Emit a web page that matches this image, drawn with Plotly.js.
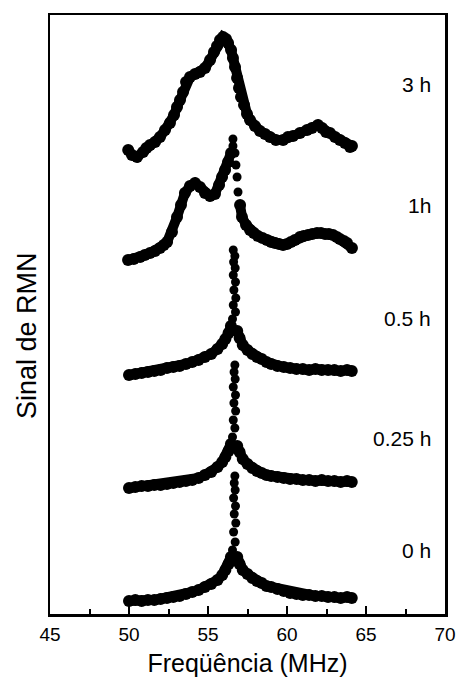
<!DOCTYPE html>
<html>
<head>
<meta charset="utf-8">
<script src="https://cdn.plot.ly/plotly-3.0.1.min.js"></script>
<style>html,body{margin:0;padding:0;background:#fff;}#chart{width:457px;height:677px;}</style>
</head>
<body>
<div id="chart"></div>
<script>
// Curve labels (annealing time) and vertical offsets of each spectrum (arbitrary units)
const labels = ["0 h", "0.25 h", "0.5 h", "1h", "3 h"];
const offsets = [12, 126, 238, 352, 462];

// 0 h
const f0L = [50.0,50.4,50.8,51.2,51.6,52.0,52.4,52.8,53.2,53.6,54.0,54.4,54.8,55.2,55.6,55.9,56.1,56.3,56.45];
const s0L = [1,2,1,2,2,3,4,5,6,8,10,12,15,18,22,27,32,38,45];
const f0P = [56.55,56.72,56.62,56.76,56.66,56.74,56.62,56.72,56.66,56.7];
const s0P = [52,60,70,79,88,96,104,112,119,126];
const f0R = [56.85,57.0,57.2,57.5,57.8,58.1,58.4,58.7,59.0,59.4,59.8,60.2,60.6,61.0,61.4,61.8,62.2,62.6,63.0,63.4,63.8,64.1];
const s0R = [45,38,32,28,24,21,19,16,15,13,11,9,8,7,7,6,6,5,5,4,5,4];

// 0.25 h
const f1L = [50.0,50.4,50.8,51.2,51.6,52.0,52.4,52.8,53.2,53.6,54.0,54.4,54.8,55.2,55.6,55.9,56.1,56.3,56.45];
const s1L = [0,1,2,2,3,3,4,5,6,7,8,10,13,16,21,26,31,37,44];
const f1P = [56.55,56.7,56.6,56.75,56.64,56.74,56.6,56.72,56.65,56.7];
const s1P = [51,60,68,77,85,93,101,109,116,123];
const f1R = [56.85,57.0,57.2,57.5,57.8,58.1,58.4,58.7,59.0,59.4,59.8,60.2,60.6,61.0,61.4,61.8,62.2,62.6,63.0,63.4,63.8,64.1];
const s1R = [42,36,29,24,20,17,15,13,12,11,10,9,9,8,8,7,8,7,7,6,7,6];

// 0.5 h
const f2L = [50.0,50.4,50.8,51.2,51.6,52.0,52.4,52.8,53.2,53.6,54.0,54.4,54.8,55.2,55.6,55.9,56.1,56.3,56.45];
const s2L = [1,2,3,4,5,6,8,9,10,12,14,16,19,22,27,32,37,43,50];
const f2P = [56.55,56.74,56.6,56.76,56.64,56.74,56.6,56.72,56.62,56.7,56.6];
const s2P = [57,64,71,78,86,94,101,108,114,120,126];
const f2R = [56.85,57.0,57.2,57.5,57.8,58.1,58.4,58.7,59.0,59.4,59.8,60.2,60.6,61.0,61.4,61.8,62.2,62.6,63.0,63.4,63.8,64.1];
const s2R = [45,38,31,26,22,19,17,14,12,10,9,8,7,7,6,7,6,6,6,5,6,5];

// 1 h
const f3L = [49.94,50.3,50.7,51.0,51.33,51.65,51.96,52.2,52.41,52.72,53.04,53.29,53.54,53.86,54.18,54.49,54.81,55.13,55.44,55.7,55.89,56.08,56.27,56.46];
const s3L = [2,3,5,7,9,11,14,17,20,30,45,57,69,76,79,75,69,66,68,77,85,92,100,109];
const f3P = [56.58,56.58,56.71,56.77,56.84,56.9];
const s3P = [116,123,109,97,85,70];
const f3R = [57.03,57.15,57.41,57.66,57.9,58.16,58.45,58.73,59.0,59.24,59.5,59.75,60.0,60.25,60.5,60.82,61.05,61.33,61.6,61.9,62.15,62.41,62.65,62.91,63.15,63.35,63.6,63.8,64.11];
const s3R = [57,45,37,32,29,26,24,22,20,19,18,17,18,20,22,25,26,27,28,29,29,28,28,27,25,23,21,19,14];

// 3 h
const f4 = [49.95,50.19,50.51,50.89,51.1,51.33,51.65,51.96,52.28,52.59,52.85,53.04,53.23,53.42,53.61,53.86,54.18,54.49,54.81,55.13,55.38,55.57,55.76,55.95,56.14,56.27,56.46,56.58,56.71,56.84,56.96,57.09,57.28,57.47,57.66,57.97,58.29,58.61,58.92,59.3,59.75,60.06,60.38,60.82,61.27,61.58,61.96,62.22,62.47,62.72,63.04,63.35,63.67,63.99,64.11];
const s4 = [2,-3,-5,0,4,7,10,15,22,29,37,45,52,60,70,75,78,80,84,92,100,106,112,115,113,109,102,94,85,74,64,55,47,38,32,26,21,18,15,12,12,15,16,19,22,24,27,24,20,19,15,12,9,5,6];

// x axis tick labels
const tickVals = [45,50,55,60,65,70];
const tickText = ["45","50","55","60","65","70"];

const shift = (arr, off) => arr.map(v => v + off);
const traces = [];
function dense(f, s, off) {
  traces.push({x: f, y: shift(s, off), mode: 'lines+markers', type: 'scatter',
    line: {color: '#000', width: 10}, marker: {color: '#000', size: 12}, hoverinfo: 'skip'});
}
function dots(f, s, off) {
  traces.push({x: f, y: shift(s, off), mode: 'markers', type: 'scatter',
    marker: {color: '#000', size: 9}, hoverinfo: 'skip'});
}
dense(f0L, s0L, offsets[0]); dots(f0P, s0P, offsets[0]); dense(f0R, s0R, offsets[0]);
dense(f1L, s1L, offsets[1]); dots(f1P, s1P, offsets[1]); dense(f1R, s1R, offsets[1]);
dense(f2L, s2L, offsets[2]); dots(f2P, s2P, offsets[2]); dense(f2R, s2R, offsets[2]);
dense(f3L, s3L, offsets[3]); dots(f3P, s3P, offsets[3]); dense(f3R, s3R, offsets[3]);
dense(f4, s4, offsets[4]);

const labelY = [64, 176, 296, 409, 530];
const annotations = labels.map((t, i) => ({
  x: 69.24, y: labelY[i], xref: 'x', yref: 'y', text: t, showarrow: false,
  xanchor: 'right', yanchor: 'middle',
  font: {family: 'Liberation Sans, Arial, sans-serif', size: 21, color: '#000'}
}));
annotations.push({
  x: -0.057, y: 0.465, xref: 'paper', yref: 'paper', text: 'Sinal de RMN',
  textangle: -90, showarrow: false, xanchor: 'center', yanchor: 'middle',
  font: {family: 'Liberation Sans, Arial, sans-serif', size: 27, color: '#000'}
});

const layout = {
  width: 457, height: 677,
  margin: {l: 50, r: 12, t: 15, b: 63},
  paper_bgcolor: '#fff', plot_bgcolor: '#fff',
  showlegend: false,
  xaxis: {
    range: [45, 70], tickmode: 'array', tickvals: tickVals, ticktext: tickText,
    ticks: 'inside', ticklen: 8, tickwidth: 2, tickcolor: '#000',
    minor: {dtick: 2.5, ticks: 'inside', ticklen: 5, tickwidth: 2, tickcolor: '#000'},
    showline: true, linecolor: '#000', linewidth: 2.5, mirror: true,
    showgrid: false, zeroline: false, ticklabelstandoff: 2,
    tickfont: {family: 'Liberation Sans, Arial, sans-serif', size: 19, color: '#000'},
    title: {text: 'Freqüência (MHz)', standoff: 12,
      font: {family: 'Liberation Sans, Arial, sans-serif', size: 25, color: '#000'}}
  },
  yaxis: {
    range: [0, 599], showticklabels: false, ticks: '',
    showline: true, linecolor: '#000', linewidth: 2.5, mirror: true,
    showgrid: false, zeroline: false
  },
  annotations: annotations
};
Plotly.newPlot('chart', traces, layout, {staticPlot: true, displayModeBar: false});
</script>
</body>
</html>
